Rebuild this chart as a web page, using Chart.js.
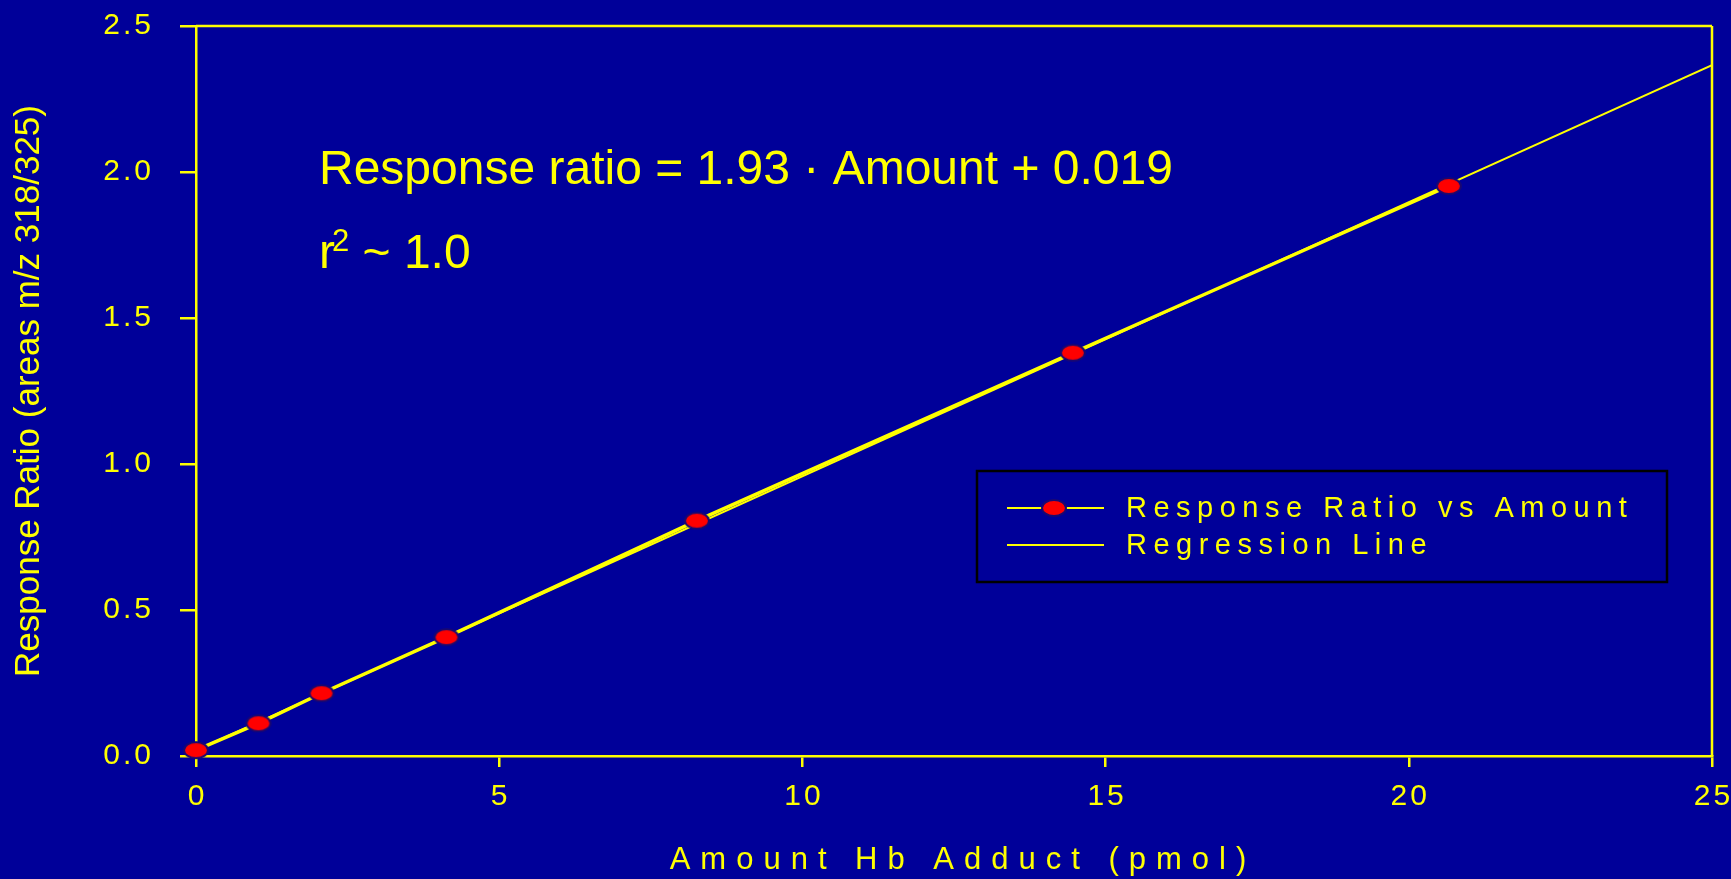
<!DOCTYPE html>
<html>
<head>
<meta charset="utf-8">
<title>Response Ratio vs Amount Hb Adduct</title>
<script src="https://cdn.jsdelivr.net/npm/chart.js@4.4.0/dist/chart.umd.min.js"></script>
<style>
  html, body { margin: 0; padding: 0; background: #000099; }
  canvas { display: block; }
</style>
</head>
<body>
<canvas id="calibChart" width="1731" height="879"></canvas>
<script>
// Data kalibrasi: jumlah Hb adduct (pmol) vs response ratio
const amounts = [0, 1.03, 2.07, 4.13, 8.26, 14.46, 20.66];
const ratios = [0.02, 0.112, 0.215, 0.407, 0.806, 1.381, 1.952];

// Garis regresi (dua titik ujung yang dibaca dari gambar)
const regressionX = [0, 25];
const regressionY = [0.019, 2.366];

// Label sumbu
const xTicks = [0, 5, 10, 15, 20, 25];
const yTicks = [0.0, 0.5, 1.0, 1.5, 2.0, 2.5];
const seriesLabels = ['Response Ratio vs Amount', 'Regression Line'];
const equationText = 'Response ratio = 1.93 · Amount + 0.019';
const rSquaredText = ' ~ 1.0';

const BG = '#000099';
const YELLOW = '#ffff00';
const FONT = "'Liberation Sans', Arial, sans-serif";

// Marker elips merah
function makeMarker() {
    const c = document.createElement('canvas');
    c.width = 30;
    c.height = 22;
    const g = c.getContext('2d');
    g.beginPath();
    g.ellipse(15, 11, 12, 8, 0, 0, Math.PI * 2);
    g.fillStyle = '#ff0000';
    g.fill();
    g.lineWidth = 2;
    g.strokeStyle = '#1a0870';
    g.stroke();
    return c;
}
const marker = makeMarker();

// Jarak antar huruf untuk label sumbu (dx: geser horizontal)
function addSpacing(scale, method, spacing, dx = 0) {
    const orig = scale[method].bind(scale);
    scale[method] = function (...args) {
        const ctx = scale.ctx;
        ctx.save();
        ctx.letterSpacing = spacing;
        ctx.translate(dx, 0);
        orig(...args);
        ctx.restore();
    };
}

// Hilangkan padding otomatis dari label sumbu
function noPadding(s) {
    s.paddingTop = 0;
    s.paddingBottom = 0;
    s.paddingLeft = 0;
    s.paddingRight = 0;
}

const decorPlugin = {
    id: 'decor',
    beforeDraw(chart) {
        const ctx = chart.ctx;
        ctx.save();
        ctx.fillStyle = BG;
        ctx.fillRect(0, 0, chart.width, chart.height);
        ctx.restore();
        const { x, y } = chart.scales;
        if (!x._spaced) {
            addSpacing(x, 'drawLabels', '3px', 1.5);
            addSpacing(y, 'drawLabels', '3px');
            addSpacing(x, 'drawTitle', '10px', 9);
            x._spaced = true;
        }
    },
    beforeDatasetsDraw(chart) {
        // bingkai atas dan kanan
        const { left, right, top, bottom } = chart.chartArea;
        const ctx = chart.ctx;
        ctx.save();
        ctx.strokeStyle = YELLOW;
        ctx.lineWidth = 2.5;
        ctx.beginPath();
        ctx.moveTo(left, top);
        ctx.lineTo(right, top);
        ctx.moveTo(right, top);
        ctx.lineTo(right, bottom);
        ctx.stroke();
        ctx.restore();
    },
    afterDraw(chart) {
        const ctx = chart.ctx;
        const area = chart.chartArea;
        ctx.save();

        // Legenda
        const lx = 977, ly = 471, lw = 690, lh = 111;
        ctx.strokeStyle = '#000000';
        ctx.lineWidth = 2.5;
        ctx.strokeRect(lx, ly, lw, lh);

        const rows = [ly + 37, ly + 74];
        ctx.strokeStyle = YELLOW;
        ctx.lineWidth = 2;
        rows.forEach(ry => {
            ctx.beginPath();
            ctx.moveTo(lx + 30, ry);
            ctx.lineTo(lx + 127, ry);
            ctx.stroke();
        });
        ctx.drawImage(marker, lx + 77 - marker.width / 2, rows[0] - marker.height / 2);

        ctx.fillStyle = YELLOW;
        ctx.font = '29px ' + FONT;
        ctx.textBaseline = 'middle';
        ctx.letterSpacing = '6.5px';
        seriesLabels.forEach((t, i) => ctx.fillText(t, lx + 149, rows[i] + 1));

        // Persamaan regresi
        ctx.letterSpacing = '0px';
        ctx.textBaseline = 'alphabetic';
        const tx = area.left + 123;
        ctx.font = '48px ' + FONT;
        ctx.fillText(equationText, tx, 184);

        ctx.fillText('r', tx, 268);
        const rw = ctx.measureText('r').width;
        ctx.font = '31px ' + FONT;
        ctx.fillText('2', tx + rw - 3, 251);
        const sw = ctx.measureText('2').width;
        ctx.font = '48px ' + FONT;
        ctx.fillText(rSquaredText, tx + rw - 3 + sw, 268);

        ctx.restore();
    }
};

const ctx = document.getElementById('calibChart').getContext('2d');

const config = {
    type: 'scatter',
    data: {
        datasets: [
            {
                label: seriesLabels[0],
                data: amounts.map((a, i) => ({ x: a, y: ratios[i] })),
                showLine: true,
                borderColor: YELLOW,
                borderWidth: 3.5,
                pointStyle: marker,
                pointRadius: 10,
                clip: false
            },
            {
                label: seriesLabels[1],
                data: regressionX.map((a, i) => ({ x: a, y: regressionY[i] })),
                showLine: true,
                borderColor: YELLOW,
                borderWidth: 2,
                pointRadius: 0
            }
        ]
    },
    options: {
        responsive: false,
        animation: false,
        layout: {
            autoPadding: false,
            padding: { top: 26, right: 19, bottom: 0, left: 0 }
        },
        plugins: {
            legend: { display: false },
            tooltip: { enabled: false }
        },
        scales: {
            x: {
                type: 'linear',
                min: 0,
                max: 25,
                afterBuildTicks: s => { s.ticks = xTicks.map(v => ({ value: v })); },
                afterFit: s => { s.height = 123; noPadding(s); },
                grid: {
                    drawOnChartArea: false,
                    color: YELLOW,
                    lineWidth: 2.5,
                    tickLength: 11
                },
                border: { color: YELLOW, width: 2.5 },
                ticks: {
                    color: YELLOW,
                    font: { family: FONT, size: 30 },
                    padding: 12,
                    maxRotation: 0,
                    autoSkip: false,
                    callback: v => String(v)
                },
                title: {
                    display: true,
                    text: 'Amount Hb Adduct (pmol)',
                    color: YELLOW,
                    font: { family: FONT, size: 31 },
                    padding: { top: 0, bottom: 0 }
                }
            },
            y: {
                type: 'linear',
                min: 0,
                max: 2.5,
                afterBuildTicks: s => { s.ticks = yTicks.map(v => ({ value: v })); },
                afterFit: s => { s.width = 196; noPadding(s); },
                grid: {
                    drawOnChartArea: false,
                    color: YELLOW,
                    lineWidth: 2.5,
                    tickLength: 16
                },
                border: { color: YELLOW, width: 2.5 },
                ticks: {
                    color: YELLOW,
                    font: { family: FONT, size: 30 },
                    padding: 26,
                    callback: v => Number(v).toFixed(1)
                },
                title: {
                    display: true,
                    text: 'Response Ratio (areas m/z 318/325)',
                    color: YELLOW,
                    font: { family: FONT, size: 35 },
                    padding: { top: 8, bottom: 0 }
                }
            }
        }
    },
    plugins: [decorPlugin]
};

const calibChart = new Chart(ctx, config);
</script>
</body>
</html>
